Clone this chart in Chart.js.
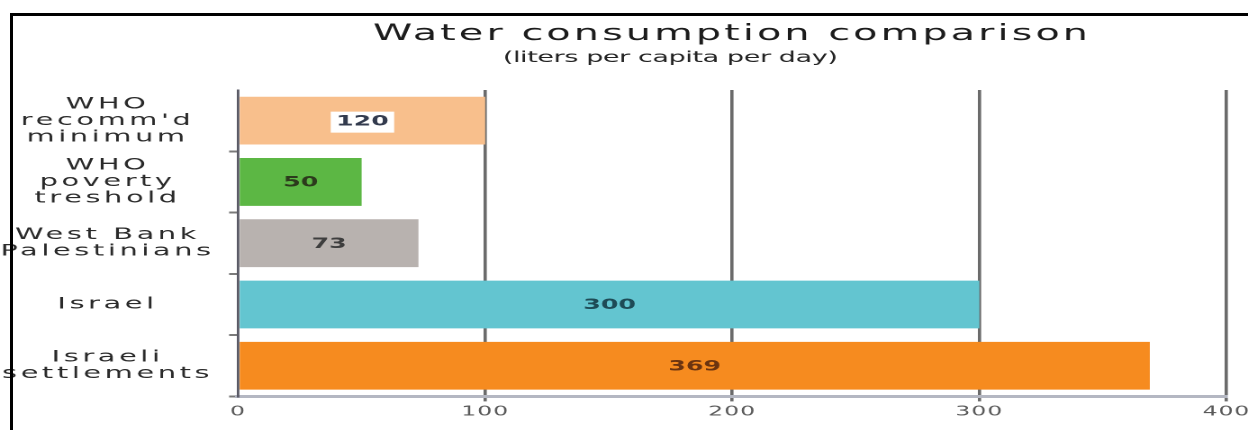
<!DOCTYPE html>
<html>
<head>
<meta charset="utf-8">
<style>
  html, body { margin: 0; padding: 0; background: #fff; }
  #wrap { position: relative; width: 1248px; height: 430px; overflow: hidden; }
  /* the original picture is stretched sideways, so the chart is drawn narrow and widened */
  #stretch { position: absolute; left: 0; top: 0; width: 693px; height: 430px; transform: scaleX(1.8009); transform-origin: 0 0; }
  #frame { position: absolute; left: 10px; top: 13px; right: 0; bottom: 0; border-top: 3px solid #000; border-left: 3px solid #000; pointer-events: none; }
</style>
</head>
<body>
<div id="wrap">
  <div id="stretch"><canvas id="waterChart" width="693" height="430" style="width:693px;height:430px"></canvas></div>
  <div id="frame"></div>
</div>

<script src="https://cdn.jsdelivr.net/npm/chart.js"></script>
<script>
    const chartTitle = 'Water consumption comparison';
    const chartSubtitle = '(liters per capita per day)';

    const categories = [
        ['WHO', "recomm'd", 'minimum'],
        ['WHO', 'poverty', 'treshold'],
        ['West Bank', 'Palestinians'],
        'Israel',
        ['Israeli', 'settlements']
    ];
    // bar lengths as drawn in the picture (the first bar stops at 100 although its label reads 120)
    const barValues = [100, 50, 73, 300, 369];
    const valueLabels = ['120', '50', '73', '300', '369'];
    const xTicks = [0, 100, 200, 300, 400];

    const barColors = ['#f8bf8c', '#5cb744', '#b8b2af', '#63c5d0', '#f68b1f'];
    const labelColors = ['#333b4e', '#2c3a1c', '#3e3e3e', '#1e4b56', '#6b3410'];

    function drawSpaced(ctx, text, cx, y, font, width, color) {
        ctx.font = font;
        ctx.letterSpacing = '0px';
        const w0 = ctx.measureText(text).width;
        const sp = (width - w0) / (text.length - 1);
        ctx.letterSpacing = sp + 'px';
        ctx.textAlign = 'left';
        ctx.textBaseline = 'alphabetic';
        ctx.fillStyle = color;
        ctx.fillText(text, cx - width / 2, y);
    }

    // wide spacing for the category names, tighter for the numbers on the x axis
    const spacingPlugin = {
        id: 'spacing',
        beforeUpdate(chart) { chart.ctx.letterSpacing = '2px'; },
        beforeDraw(chart) { chart.ctx.letterSpacing = '2px'; },
        afterDatasetsDraw(chart) { chart.ctx.letterSpacing = '0.6px'; }
    };

    const valueLabelPlugin = {
        id: 'valueLabels',
        afterDatasetsDraw(chart) {
            const ctx = chart.ctx;
            const meta = chart.getDatasetMeta(0);
            ctx.save();
            ctx.font = 'bold 14px "DejaVu Sans"';
            ctx.letterSpacing = '0px';
            ctx.textAlign = 'center';
            ctx.textBaseline = 'middle';
            meta.data.forEach((bar, i) => {
                const cx = (bar.x + bar.base) / 2;
                const cy = bar.y + 1;
                const w = ctx.measureText(valueLabels[i]).width;
                if (i === 0) {
                    ctx.fillStyle = '#ffffff';
                    ctx.fillRect(cx - w / 2 - 3, cy - 10, w + 6, 21);
                }
                ctx.fillStyle = labelColors[i];
                ctx.fillText(valueLabels[i], cx, cy);
            });
            ctx.restore();
        }
    };

    const titlePlugin = {
        id: 'stretchedTitle',
        afterDraw(chart) {
            const ctx = chart.ctx;
            ctx.save();
            drawSpaced(ctx, chartTitle, 405.6, 40, '22px "DejaVu Sans"', 397, '#1c1c1c');
            drawSpaced(ctx, chartSubtitle, 372.2, 62, '15px "DejaVu Sans"', 186, '#232323');
            ctx.restore();
        }
    };

    const ctx = document.getElementById('waterChart');
    new Chart(ctx.getContext('2d'), {
        type: 'bar',
        data: {
            labels: categories,
            datasets: [{
                data: barValues,
                backgroundColor: barColors,
                borderWidth: 0,
                barPercentage: 0.78,
                categoryPercentage: 1
            }]
        },
        options: {
            indexAxis: 'y',
            responsive: false,
            animation: false,
            devicePixelRatio: 2,
            layout: { padding: { top: 90, right: 12, left: 0, bottom: 0 } },
            plugins: {
                legend: { display: false },
                tooltip: { enabled: false },
                title: { display: false }
            },
            scales: {
                x: {
                    min: 0,
                    max: 400,
                    afterFit: s => { s.height = 33.6; s.paddingLeft = 0; s.paddingRight = 0; },
                    afterBuildTicks: s => { s.ticks = xTicks.map(v => ({ value: v })); },
                    ticks: {
                        z: 1,
                        padding: 3,
                        color: '#5a5a5a',
                        font: { family: 'DejaVu Sans', size: 13 }
                    },
                    grid: {
                        color: c => (c.tick && c.tick.value === 0) ? 'rgba(0,0,0,0)' : '#6b6b6b',
                        lineWidth: 1.8,
                        tickLength: 5
                    },
                    border: { color: '#b4b7c2', width: 3 }
                },
                y: {
                    afterFit: s => { s.width = 132.2; },
                    grid: {
                        drawOnChartArea: false,
                        drawTicks: true,
                        tickLength: 5,
                        color: c => c.index === 0 ? 'rgba(0,0,0,0)' : '#7a7a7a',
                        lineWidth: 2,
                        offset: true
                    },
                    border: { color: '#5a5a66', width: 1.4 },
                    ticks: {
                        crossAlign: 'center',
                        padding: 8,
                        color: '#2a2a2a',
                        font: { family: 'DejaVu Sans', size: 16, lineHeight: 1.03 }
                    }
                }
            }
        },
        plugins: [spacingPlugin, valueLabelPlugin, titlePlugin]
    });
</script>
</body>
</html>
